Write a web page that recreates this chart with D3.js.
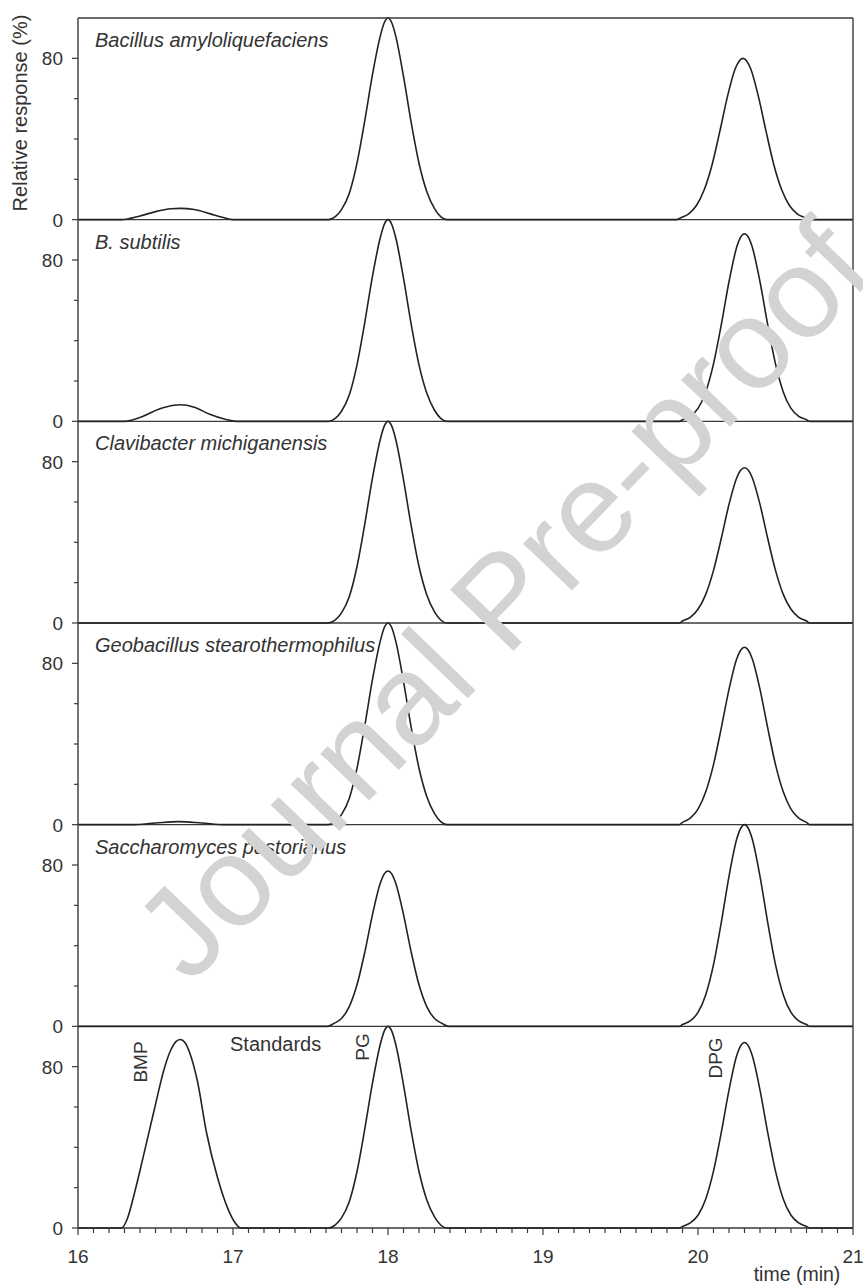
<!DOCTYPE html>
<html>
<head>
<meta charset="utf-8">
<script src="https://cdn.jsdelivr.net/npm/d3@7"></script>
<style>
  body { margin: 0; background: #fff; }
  svg { display: block; font-family: "Liberation Sans", Arial, sans-serif; }
</style>
</head>
<body>
<svg id="chart" width="863" height="1287"></svg>
<script>
/* --- Data: [time (min), relative response (%)] --- */
var panel_titles = [
    "Bacillus amyloliquefaciens",
    "B. subtilis",
    "Clavibacter michiganensis",
    "Geobacillus stearothermophilus",
    "Saccharomyces pastorianus",
    "Standards"
];

var trace_amylo = [
    [16.0,0],[16.28,0],[16.4,1.8],[16.5,4],[16.6,5.4],[16.66,5.6],[16.75,5],[16.85,3],[16.93,1.2],[17.0,0],
    [17.615,0],[17.66,1.5],[17.70,5],[17.75,13],[17.80,28],[17.85,49],[17.90,72],[17.95,91],[17.975,97.5],[18.0,100],
    [18.025,97.5],[18.05,91],[18.10,71],[18.15,48],[18.20,28],[18.25,14],[18.30,5.5],[18.34,1.5],[18.38,0],
    [19.86,0],[19.89,1],[19.94,2.9],[19.99,7],[20.04,14.8],[20.09,27],[20.14,43.5],[20.19,61],[20.24,74.8],[20.265,78.6],[20.29,80],
    [20.315,78.6],[20.34,74.8],[20.39,61],[20.44,43.5],[20.49,27],[20.54,14.8],[20.59,7],[20.64,2.9],[20.69,1],[20.72,0],
    [21.0,0]
];

var trace_subtilis = [
    [16.0,0],[16.3,0],[16.42,2.5],[16.52,6],[16.62,8],[16.66,8.2],[16.75,7],[16.85,3.5],[16.95,1],[17.02,0],
    [17.615,0],[17.66,1.5],[17.70,5],[17.75,13],[17.80,28],[17.85,49],[17.90,72],[17.95,91],[17.975,97.5],[18.0,100],
    [18.025,97.5],[18.05,91],[18.10,71],[18.15,48],[18.20,28],[18.25,14],[18.30,5.5],[18.34,1.5],[18.38,0],
    [19.88,0],[19.90,0.8],[19.95,2.5],[20.0,6.4],[20.05,14.6],[20.10,28.5],[20.15,47.8],[20.20,69.2],[20.25,86.4],[20.275,91.3],[20.30,93],
    [20.325,91.3],[20.35,86.4],[20.40,69.2],[20.45,47.8],[20.50,28.5],[20.55,14.6],[20.60,6.4],[20.65,2.5],[20.70,0.8],[20.72,0],
    [21.0,0]
];

var trace_clavibacter = [
    [16.0,0],
    [17.615,0],[17.66,1.5],[17.70,5],[17.75,13],[17.80,28],[17.85,49],[17.90,72],[17.95,91],[17.975,97.5],[18.0,100],
    [18.025,97.5],[18.05,91],[18.10,71],[18.15,48],[18.20,28],[18.25,14],[18.30,5.5],[18.34,1.5],[18.38,0],
    [19.88,0],[19.90,1],[19.95,2.8],[20.0,6.8],[20.05,14.2],[20.10,26.1],[20.15,41.9],[20.20,58.8],[20.25,72],[20.275,75.7],[20.30,77],
    [20.325,75.7],[20.35,72],[20.40,58.8],[20.45,41.9],[20.50,26.1],[20.55,14.2],[20.60,6.8],[20.65,2.8],[20.70,1],[20.72,0],
    [21.0,0]
];

var trace_geobacillus = [
    [16.0,0],[16.35,0],[16.5,0.8],[16.65,1.5],[16.8,0.8],[16.95,0],
    [17.615,0],[17.66,1.5],[17.70,5],[17.75,13],[17.80,28],[17.85,49],[17.90,72],[17.95,91],[17.975,97.5],[18.0,100],
    [18.025,97.5],[18.05,91],[18.10,71],[18.15,48],[18.20,28],[18.25,14],[18.30,5.5],[18.34,1.5],[18.38,0],
    [19.88,0],[19.90,1.1],[19.95,3.2],[20.0,7.7],[20.05,16.3],[20.10,29.8],[20.15,47.9],[20.20,67.1],[20.25,82.3],[20.275,86.5],[20.30,88],
    [20.325,86.5],[20.35,82.3],[20.40,67.1],[20.45,47.9],[20.50,29.8],[20.55,16.3],[20.60,7.7],[20.65,3.2],[20.70,1.1],[20.72,0],
    [21.0,0]
];

var trace_saccharomyces = [
    [16.0,0],
    [17.61,0],[17.65,1.4],[17.70,3.9],[17.75,9.8],[17.80,20.6],[17.85,36.7],[17.90,55.4],[17.95,70.9],[17.975,75.5],[18.0,77],
    [18.025,75.5],[18.05,70.9],[18.10,55.4],[18.15,36.7],[18.20,20.6],[18.25,9.8],[18.30,3.9],[18.35,1.4],[18.39,0],
    [19.88,0],[19.90,0.9],[19.95,2.7],[20.0,6.9],[20.05,15.7],[20.10,30.6],[20.15,51.4],[20.20,74.4],[20.25,92.9],[20.275,98.1],[20.30,100],
    [20.325,98.1],[20.35,92.9],[20.40,74.4],[20.45,51.4],[20.50,30.6],[20.55,15.7],[20.60,6.9],[20.65,2.7],[20.70,0.9],[20.72,0],
    [21.0,0]
];

var trace_standards = [
    [16.0,0],[16.28,0],[16.32,5],[16.36,16],[16.42,35],[16.49,58],[16.56,80],[16.60,88.5],[16.63,92.3],[16.66,93.5],
    [16.69,92],[16.72,87],[16.77,73],[16.83,47],[16.90,25],[16.97,9],[17.01,3],[17.05,0],
    [17.62,0],[17.66,1.5],[17.70,5],[17.75,13],[17.80,28],[17.85,49],[17.90,72],[17.95,91],[17.975,97.5],[18.0,100],
    [18.025,97.5],[18.05,91],[18.10,71],[18.15,48],[18.20,28],[18.25,14],[18.30,5.5],[18.34,1.5],[18.38,0],
    [19.88,0],[19.90,0.8],[19.95,2.5],[20.0,6.3],[20.05,14.4],[20.10,28.2],[20.15,47.3],[20.20,68.4],[20.25,85.5],[20.275,90.3],[20.30,92],
    [20.325,90.3],[20.35,85.5],[20.40,68.4],[20.45,47.3],[20.50,28.2],[20.55,14.4],[20.60,6.3],[20.65,2.5],[20.70,0.8],[20.72,0],
    [21.0,0]
];

var traces = [trace_amylo, trace_subtilis, trace_clavibacter, trace_geobacillus, trace_saccharomyces, trace_standards];

// peak names in the standards panel
var peak_names = ["BMP", "PG", "DPG"];

var y_ticks = [0, 20, 40, 60, 80];
var y_labels = [0, 80];
var x_labels = [16, 17, 18, 19, 20, 21];

/* --- Layout --- */
var plot_left = 78, plot_right = 853, plot_top = 18, plot_bottom = 1228;
var panel_h = (plot_bottom - plot_top) / traces.length;
var ink = "#222";
var axis_col = "#3a3a3a";
var txt_col = "#333";

var svg = d3.select("#chart");
var x = d3.scaleLinear().domain([16, 21]).range([plot_left, plot_right]);

var line_gen = d3.line().curve(d3.curveMonotoneX);

traces.forEach(function(tr, i){
    var p_top = plot_top + i * panel_h;
    var p_bot = p_top + panel_h;
    var y = d3.scaleLinear().domain([0, 100]).range([p_bot, p_top]);

    var g = svg.append("g");

    // panel baseline / separator
    g.append("line")
        .attr("x1", plot_left).attr("x2", plot_right)
        .attr("y1", y(0)).attr("y2", y(0))
        .attr("stroke", axis_col).attr("stroke-width", 1.4);

    // left ticks
    g.selectAll("line.yt")
        .data(y_ticks)
        .join("line")
        .attr("class", "yt")
        .attr("x1", d => (y_labels.indexOf(d) >= 0 ? plot_left - 6 : plot_left - 4))
        .attr("x2", plot_left)
        .attr("y1", d => y(d)).attr("y2", d => y(d))
        .attr("stroke", axis_col).attr("stroke-width", 1.2);

    g.selectAll("text.yl")
        .data(y_labels)
        .join("text")
        .attr("class", "yl")
        .attr("x", plot_left - 15)
        .attr("y", d => y(d) + 7)
        .attr("text-anchor", "end")
        .attr("font-size", 19)
        .attr("fill", txt_col)
        .text(d => d);

    // trace
    g.append("path")
        .attr("d", line_gen(tr.map(p => [x(p[0]), y(p[1])])))
        .attr("fill", "none")
        .attr("stroke", ink)
        .attr("stroke-width", 1.6);

    // title
    if (i < traces.length - 1) {
        g.append("text")
            .attr("x", 95)
            .attr("y", p_top + 29)
            .attr("font-size", 20)
            .attr("font-style", "italic")
            .attr("fill", txt_col)
            .text(panel_titles[i]);
    } else {
        g.append("text")
            .attr("x", 230)
            .attr("y", p_top + 25)
            .attr("font-size", 20)
            .attr("fill", txt_col)
            .text(panel_titles[i]);

        var name_pos = [[147, 1062], [369, 1047], [722, 1058]];
        g.selectAll("text.pk")
            .data(peak_names)
            .join("text")
            .attr("class", "pk")
            .attr("transform", (d, k) => "translate(" + name_pos[k][0] + "," + name_pos[k][1] + ") rotate(-90)")
            .attr("text-anchor", "middle")
            .attr("font-size", 19)
            .attr("fill", txt_col)
            .text(d => d);
    }
});

/* --- frame --- */
svg.append("line").attr("x1", plot_left).attr("x2", plot_right).attr("y1", plot_top).attr("y2", plot_top)
    .attr("stroke", axis_col).attr("stroke-width", 1.4);
svg.append("line").attr("x1", plot_right).attr("x2", plot_right).attr("y1", plot_top).attr("y2", plot_bottom)
    .attr("stroke", axis_col).attr("stroke-width", 1.4);
svg.append("line").attr("x1", plot_left).attr("x2", plot_left).attr("y1", plot_top).attr("y2", plot_bottom)
    .attr("stroke", axis_col).attr("stroke-width", 1.4);

/* --- bottom axis --- */
var minor = d3.range(160, 211).map(d => d / 10);
svg.append("g")
    .selectAll("line")
    .data(minor)
    .join("line")
    .attr("x1", d => x(d)).attr("x2", d => x(d))
    .attr("y1", plot_bottom)
    .attr("y2", d => (Math.abs(d - Math.round(d)) < 1e-6 ? plot_bottom + 7 : plot_bottom + 5))
    .attr("stroke", axis_col).attr("stroke-width", 1.2);

svg.append("g")
    .selectAll("text")
    .data(x_labels)
    .join("text")
    .attr("x", d => x(d))
    .attr("y", plot_bottom + 35)
    .attr("text-anchor", "middle")
    .attr("font-size", 19)
    .attr("fill", txt_col)
    .text(d => d);

svg.append("text")
    .attr("x", 797).attr("y", 1281)
    .attr("text-anchor", "middle")
    .attr("font-size", 19.5)
    .attr("fill", txt_col)
    .text("time (min)");

svg.append("text")
    .attr("transform", "translate(27,113) rotate(-90)")
    .attr("text-anchor", "middle")
    .attr("font-size", 20)
    .attr("fill", txt_col)
    .text("Relative response (%)");

/* --- watermark --- */
svg.append("text")
    .attr("transform", "translate(190,986) rotate(-46)")
    .attr("font-size", 128)
    .attr("fill", "#d3d3d3")
    .text("Journal Pre-proof");
</script>
</body>
</html>
